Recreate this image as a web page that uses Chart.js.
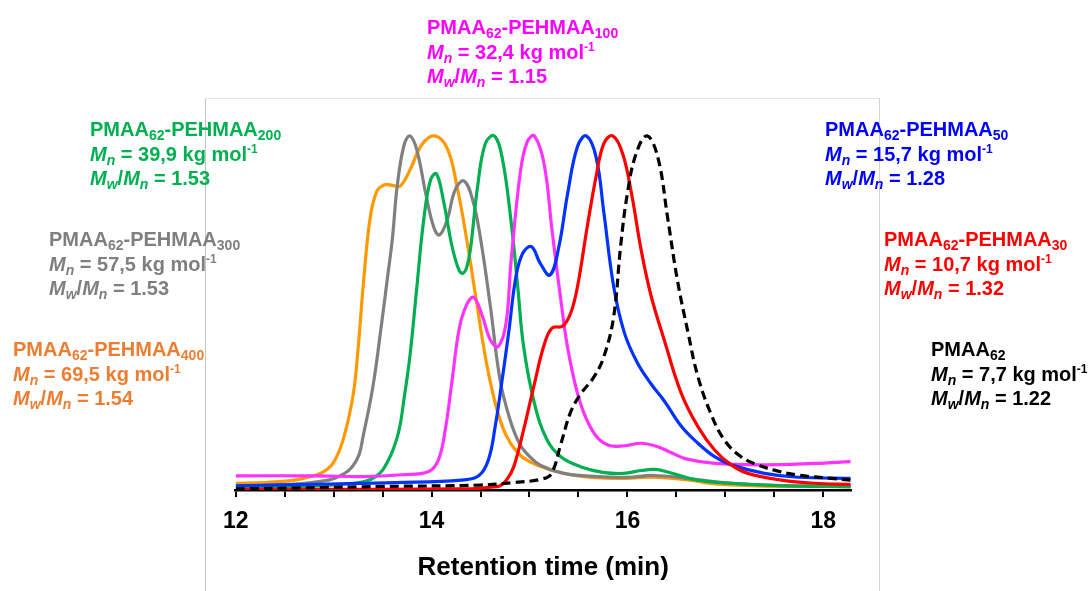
<!DOCTYPE html>
<html>
<head>
<meta charset="utf-8">
<script src="https://cdn.jsdelivr.net/npm/chart.js@4.4.1/dist/chart.umd.min.js"></script>
<style>
  html, body { margin: 0; padding: 0; background: #fff; }
  body { width: 1089px; height: 591px; overflow: hidden; position: relative;
         font-family: "Liberation Sans", Arial, sans-serif; }
  #frame { position: absolute; left: 205px; top: 98px; width: 673px; height: 520px;
           border-left: 1px solid #c4c4c4; border-top: 1px solid #e4e4e4; border-right: 1px solid #d4d4d4; }
  #wrap { position: absolute; left: 0; top: 0; width: 1089px; height: 591px; }
  .note { position: absolute; font-weight: bold; font-size: 20px; line-height: 24.5px; white-space: nowrap; }
  .note sub { font-size: 14px; vertical-align: -4px; line-height: 0; }
  .note sup { font-size: 12px; vertical-align: 8px; line-height: 0; }
  .note i { font-style: italic; }
</style>
</head>
<body>
<div id="frame"></div>
<div id="wrap"><canvas id="c"></canvas></div>
<script>
// SEC traces, normalised detector response vs retention time (min)
const tPMAA = [12.0, 12.7, 13.5, 14.5, 14.84, 15.11, 15.22, 15.32, 15.42, 15.52, 15.66, 15.76, 15.86, 15.93, 16.0, 16.09, 16.2, 16.31, 16.41, 16.51, 16.62, 16.72, 16.85, 16.99, 17.16, 17.33, 17.5, 17.74, 18.08, 18.28];
const yPMAA = [0.003, 0.006, 0.01, 0.014, 0.021, 0.03, 0.045, 0.13, 0.22, 0.27, 0.32, 0.377, 0.49, 0.687, 0.838, 0.951, 1.0, 0.94, 0.77, 0.593, 0.443, 0.32, 0.217, 0.141, 0.094, 0.071, 0.056, 0.042, 0.033, 0.028];

const tP30 = [12.0, 13.5, 14.3, 14.5, 14.6, 14.7, 14.77, 14.84, 14.94, 15.05, 15.15, 15.23, 15.34, 15.42, 15.49, 15.59, 15.68, 15.76, 15.85, 15.95, 16.04, 16.14, 16.24, 16.38, 16.55, 16.72, 16.89, 17.06, 17.23, 17.57, 17.91, 18.28];
const yP30 = [0.002, 0.002, 0.003, 0.005, 0.008, 0.012, 0.03, 0.066, 0.17, 0.30, 0.41, 0.457, 0.463, 0.499, 0.574, 0.744, 0.885, 0.979, 1.0, 0.951, 0.84, 0.678, 0.55, 0.42, 0.273, 0.179, 0.113, 0.071, 0.047, 0.028, 0.019, 0.016];

const tP50 = [12.0, 12.95, 13.63, 14.31, 14.48, 14.58, 14.65, 14.72, 14.79, 14.86, 14.93, 15.02, 15.11, 15.21, 15.30, 15.39, 15.49, 15.58, 15.68, 15.76, 15.86, 15.97, 16.10, 16.24, 16.38, 16.55, 16.72, 16.89, 17.06, 17.4, 17.74, 18.28];
const yP50 = [0.012, 0.017, 0.021, 0.028, 0.040, 0.085, 0.18, 0.31, 0.45, 0.60, 0.668, 0.687, 0.640, 0.607, 0.687, 0.838, 0.97, 1.0, 0.94, 0.782, 0.574, 0.443, 0.36, 0.30, 0.25, 0.18, 0.132, 0.094, 0.071, 0.047, 0.036, 0.033];

const tP100 = [12.0, 12.8, 13.3, 13.7, 13.97, 14.07, 14.14, 14.21, 14.28, 14.35, 14.43, 14.52, 14.6, 14.68, 14.76, 14.81, 14.91, 14.98, 15.05, 15.15, 15.23, 15.32, 15.40, 15.52, 15.66, 15.8, 15.97, 16.14, 16.31, 16.45, 16.6, 16.89, 17.4, 17.91, 18.28];
const yP100 = [0.040, 0.040, 0.038, 0.043, 0.052, 0.085, 0.17, 0.31, 0.452, 0.518, 0.544, 0.49, 0.424, 0.405, 0.47, 0.64, 0.904, 0.985, 1.0, 0.92, 0.734, 0.537, 0.386, 0.245, 0.16, 0.127, 0.125, 0.132, 0.122, 0.105, 0.088, 0.075, 0.071, 0.075, 0.08];

const tP200 = [12.0, 12.6, 13.2, 13.43, 13.56, 13.66, 13.72, 13.78, 13.85, 13.92, 13.99, 14.05, 14.12, 14.21, 14.28, 14.32, 14.36, 14.40, 14.47, 14.55, 14.64, 14.72, 14.81, 14.88, 14.94, 15.05, 15.18, 15.32, 15.52, 15.75, 15.96, 16.14, 16.28, 16.42, 16.72, 17.06, 17.57, 18.28];
const yP200 = [0.008, 0.010, 0.019, 0.038, 0.085, 0.16, 0.26, 0.38, 0.574, 0.763, 0.876, 0.893, 0.819, 0.687, 0.621, 0.612, 0.63, 0.687, 0.857, 0.979, 1.0, 0.94, 0.763, 0.574, 0.405, 0.245, 0.141, 0.094, 0.066, 0.05, 0.047, 0.055, 0.058, 0.05, 0.028, 0.019, 0.012, 0.009];

const tP300 = [12.0, 12.5, 12.95, 13.1, 13.19, 13.26, 13.3, 13.4, 13.49, 13.55, 13.6, 13.65, 13.72, 13.78, 13.85, 13.94, 14.02, 14.08, 14.16, 14.24, 14.33, 14.42, 14.5, 14.6, 14.7, 14.8, 14.9, 15.0, 15.11, 15.35, 15.7, 16.0, 16.27, 16.6, 17.0, 17.5, 18.28];
const yP300 = [0.011, 0.015, 0.028, 0.045, 0.066, 0.10, 0.15, 0.29, 0.47, 0.6, 0.71, 0.86, 0.975, 1.0, 0.96, 0.838, 0.744, 0.72, 0.763, 0.847, 0.873, 0.819, 0.71, 0.52, 0.31, 0.20, 0.13, 0.095, 0.07, 0.047, 0.038, 0.036, 0.041, 0.033, 0.02, 0.013, 0.011];

const tP400 = [12.0, 12.3, 12.6, 12.8, 12.9, 13.0, 13.1, 13.2, 13.25, 13.3, 13.37, 13.44, 13.52, 13.6, 13.68, 13.78, 13.9, 14.03, 14.16, 14.26, 14.36, 14.46, 14.56, 14.66, 14.76, 14.88, 15.0, 15.2, 15.5, 15.9, 16.25, 16.6, 16.9, 17.4, 18.28];
const yP400 = [0.019, 0.021, 0.028, 0.040, 0.052, 0.078, 0.145, 0.27, 0.40, 0.57, 0.763, 0.843, 0.862, 0.860, 0.858, 0.904, 0.975, 1.0, 0.965, 0.857, 0.706, 0.53, 0.36, 0.235, 0.155, 0.105, 0.08, 0.058, 0.04, 0.033, 0.036, 0.029, 0.017, 0.011, 0.011];

// axis ticks
const tickPositions = [12, 12.5, 13, 13.5, 14, 14.5, 15, 15.5, 16, 16.5, 17, 17.5, 18];
const tickLabels = ['12', '', '', '', '14', '', '', '', '16', '', '', '', '18'];

// sample descriptions
const macroLength = '62';
const blockLengths = [null, '30', '50', '100', '200', '300', '400'];
const mnValues = ['7,7', '10,7', '15,7', '32,4', '39,9', '57,5', '69,5'];
const dispersities = ['1.22', '1.32', '1.28', '1.15', '1.53', '1.53', '1.54'];

const lineColors = ['#000000', '#FF0000', '#0033FF', '#FF33FF', '#00B050', '#808080', '#FF9900'];
const textColors = ['#000000', '#FF0000', '#0000FF', '#FF00FF', '#00B050', '#7F7F7F', '#ED7D31'];
const notePlaces = [[931, 337], [884, 227], [825, 117], [427, 15], [90, 117], [49, 227], [13, 337]];

const traces = [[tPMAA, yPMAA], [tP30, yP30], [tP50, yP50], [tP100, yP100], [tP200, yP200], [tP300, yP300], [tP400, yP400]];

const datasets = traces.map(([t, y], i) => ({
  label: blockLengths[i] ? 'PMAA' + macroLength + '-PEHMAA' + blockLengths[i] : 'PMAA' + macroLength,
  data: t.map((x, k) => ({ x: x, y: y[k] })),
  borderColor: lineColors[i],
  borderWidth: 3.2,
  borderDash: i === 0 ? [9, 5] : [],
  pointRadius: 0,
  fill: false,
  tension: 0.4
}));

// text blocks beside the traces
blockLengths.forEach((n, i) => {
  const d = document.createElement('div');
  d.className = 'note';
  d.style.left = notePlaces[i][0] + 'px';
  d.style.top = notePlaces[i][1] + 'px';
  d.style.color = textColors[i];
  const name = 'PMAA<sub>' + macroLength + '</sub>' + (n ? '-PEHMAA<sub>' + n + '</sub>' : '');
  d.innerHTML = '<div>' + name + '</div>' +
    '<div><i>M<sub>n</sub></i> = ' + mnValues[i] + ' kg mol<sup>-1</sup></div>' +
    '<div><i>M<sub>w</sub></i>/<i>M<sub>n</sub></i> = ' + dispersities[i] + '</div>';
  document.body.appendChild(d);
});

new Chart(document.getElementById('c'), {
  type: 'line',
  data: { datasets: datasets },
  options: {
    responsive: true,
    maintainAspectRatio: false,
    animation: false,
    events: [],
    layout: { padding: { left: 235.7, right: 238.3, top: 98, bottom: 0 } },
    plugins: { legend: { display: false }, tooltip: { enabled: false } },
    scales: {
      x: {
        type: 'linear',
        min: 12,
        max: 18.28,
        afterBuildTicks: s => { s.ticks = tickPositions.map(v => ({ value: v })); },
        afterFit: s => { s.height = 101; },
        ticks: {
          autoSkip: false,
          maxRotation: 0,
          padding: 11,
          color: '#000',
          font: { family: '"Liberation Sans", Arial, sans-serif', size: 23, weight: 'bold' },
          callback: (v) => { const k = tickPositions.indexOf(v); return k >= 0 ? tickLabels[k] : ''; }
        },
        grid: { drawOnChartArea: false, drawTicks: true, tickLength: 7, color: '#000', lineWidth: 2 },
        border: { display: true, color: '#000', width: 2.5 },
        title: {
          display: true,
          text: 'Retention time (min)',
          color: '#000',
          font: { family: '"Liberation Sans", Arial, sans-serif', size: 26, weight: 'bold' },
          padding: { top: 0, bottom: 8 }
        }
      },
      y: { display: false, min: 0, max: 1.107 }
    }
  }
});
</script>
</body>
</html>
